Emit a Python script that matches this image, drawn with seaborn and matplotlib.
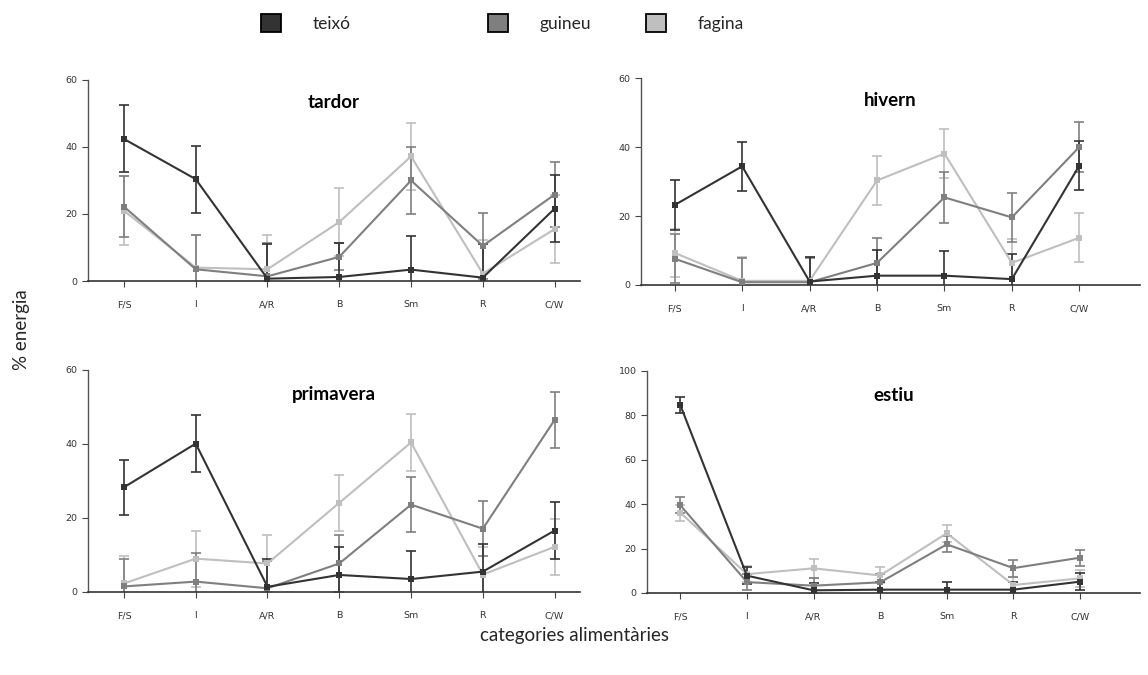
import matplotlib
matplotlib.use("Agg")
import matplotlib.pyplot as plt
from matplotlib.patches import Patch
import seaborn as sns
import numpy as np
import pandas as pd

sns.set_style("ticks")
plt.rcParams["font.family"] = ["Lato", "DejaVu Sans"]

# --------------------------------------------------
# data
# --------------------------------------------------

categories = ["F/S", "I", "A/R", "B", "Sm", "R", "C/W"]
species = ["teixó", "guineu", "fagina"]
colors = ["#333333", "#7f7f7f", "#bfbfbf"]

tardor_teixo = [42.4, 30.4, 0.7, 1.2, 3.4, 1.0, 21.6]
tardor_teixo_err = [10.0, 10.0, 10.3, 10.0, 9.9, 10.0, 10.0]
tardor_guineu = [22.2, 3.5, 1.4, 7.2, 30.0, 10.5, 25.8]
tardor_guineu_err = [9.0, 10.2, 10.0, 4.0, 10.0, 9.9, 9.7]
tardor_fagina = [21.0, 4.0, 3.5, 17.6, 37.2, 2.2, 15.5]
tardor_fagina_err = [10.2, 9.8, 10.2, 10.1, 10.0, 10.0, 10.2]

hivern_teixo = [23.2, 34.4, 1.0, 2.7, 2.7, 1.7, 34.6]
hivern_teixo_err = [7.2, 7.1, 7.1, 7.3, 7.1, 7.2, 7.2]
hivern_guineu = [7.6, 0.8, 0.8, 6.4, 25.4, 19.6, 40.0]
hivern_guineu_err = [7.1, 6.9, 7.0, 7.1, 7.3, 7.2, 7.2]
hivern_fagina = [9.3, 1.2, 1.2, 30.3, 38.1, 6.4, 13.7]
hivern_fagina_err = [7.0, 6.9, 7.0, 7.2, 7.2, 7.0, 7.1]

primavera_teixo = [28.3, 40.1, 1.4, 4.6, 3.5, 5.5, 16.6]
primavera_teixo_err = [7.4, 7.6, 7.5, 7.6, 7.6, 7.6, 7.6]
primavera_guineu = [1.5, 2.8, 1.0, 7.7, 23.6, 17.1, 46.5]
primavera_guineu_err = [7.5, 7.6, 7.5, 7.6, 7.5, 7.5, 7.6]
primavera_fagina = [2.3, 9.0, 7.7, 24.1, 40.4, 4.7, 12.2]
primavera_fagina_err = [7.4, 7.6, 7.6, 7.5, 7.6, 7.5, 7.6]

estiu_teixo = [84.6, 7.8, 1.2, 1.5, 1.5, 1.5, 5.1]
estiu_teixo_err = [3.7, 3.9, 3.4, 3.5, 3.5, 3.5, 3.9]
estiu_guineu = [39.5, 4.9, 3.3, 4.8, 21.9, 11.2, 15.9]
estiu_guineu_err = [3.6, 3.6, 3.6, 3.6, 3.6, 3.8, 3.6]
estiu_fagina = [36.2, 8.5, 11.1, 7.9, 26.9, 3.6, 6.6]
estiu_fagina_err = [3.6, 3.6, 4.2, 3.6, 3.8, 3.6, 3.9]

seasons = ["tardor", "hivern", "primavera", "estiu"]
means = {
    "tardor": [tardor_teixo, tardor_guineu, tardor_fagina],
    "hivern": [hivern_teixo, hivern_guineu, hivern_fagina],
    "primavera": [primavera_teixo, primavera_guineu, primavera_fagina],
    "estiu": [estiu_teixo, estiu_guineu, estiu_fagina],
}
errors = {
    "tardor": [tardor_teixo_err, tardor_guineu_err, tardor_fagina_err],
    "hivern": [hivern_teixo_err, hivern_guineu_err, hivern_fagina_err],
    "primavera": [primavera_teixo_err, primavera_guineu_err, primavera_fagina_err],
    "estiu": [estiu_teixo_err, estiu_guineu_err, estiu_fagina_err],
}
ymax = {"tardor": 60, "hivern": 60, "primavera": 60, "estiu": 100}

# axes rectangles [left, bottom, width, height] in figure fractions
rects = {
    "tardor": [0.0767, 0.5837, 0.4283, 0.2978],
    "hivern": [0.5584, 0.5778, 0.4346, 0.3066],
    "primavera": [0.0767, 0.1230, 0.4283, 0.3289],
    "estiu": [0.5636, 0.1215, 0.4294, 0.3289],
}
xmax = {"tardor": 6.35, "hivern": 6.9, "primavera": 6.35, "estiu": 6.9}

fig = plt.figure(figsize=(11.48, 6.75), dpi=100)

for season in seasons:
    rows = []
    for sp, vals, errs in zip(species, means[season], errors[season]):
        for c, v, e in zip(categories, vals, errs):
            rows.append({"cat": c, "val": v, "err": e, "sp": sp})
    df = pd.DataFrame(rows)

    ax = fig.add_axes(rects[season])
    # error bars first, then lines/markers on top
    for sp, col in zip(species[::-1], colors[::-1]):
        sub = df[df["sp"] == sp]
        ax.errorbar(np.arange(len(categories)), sub["val"], yerr=sub["err"],
                    fmt="none", ecolor=col, elinewidth=1.2, capsize=3.5,
                    capthick=1.2, zorder=2)
    sns.lineplot(data=df, x="cat", y="val", hue="sp", hue_order=species[::-1],
                 palette=colors[::-1], marker="s", markersize=5,
                 markeredgewidth=0, linewidth=1.5, legend=False, ax=ax,
                 sort=False, zorder=3)

    ax.set_xlim(-0.5, xmax[season])
    ax.set_ylim(0, ymax[season])
    ax.set_yticks(np.arange(0, ymax[season] + 1, 20))
    ax.set_xlabel("")
    ax.set_ylabel("")
    for lab in ax.get_xticklabels() + ax.get_yticklabels():
        lab.set_family("DejaVu Sans")
        lab.set_fontsize(6.8)
        lab.set_color("#333333")
    ax.tick_params(axis="both", length=4, width=0.8, color="#444444")
    ax.tick_params(axis="x", pad=10)
    sns.despine(ax=ax)
    ax.spines["left"].set_color("#555555")
    ax.spines["bottom"].set_color("#333333")
    ax.spines["left"].set_linewidth(1.0)
    ax.spines["bottom"].set_linewidth(1.2)
    ax.text(0.5, 0.89, season, transform=ax.transAxes, ha="center",
            va="center", fontsize=13.5, fontweight="bold", color="black")

# legend across the top
legend_x = [261, 488, 646]
for sp, col, lx in zip(species, colors, legend_x):
    h = Patch(facecolor=col, edgecolor="black", linewidth=1.3)
    fig.legend(handles=[h], labels=[sp], loc="center left",
               bbox_to_anchor=(lx / 1148, 1 - 23 / 675), frameon=False,
               fontsize=12.5, handlelength=1.15, handleheight=1.3,
               handletextpad=1.8, borderpad=0, borderaxespad=0)

fig.text(22 / 1148, 1 - 330 / 675, "% energia", rotation=90, ha="center",
         va="center", fontsize=13.5)
fig.text(574 / 1148, 1 - 636 / 675, "categories alimentàries", ha="center",
         va="center", fontsize=13.5)

fig.savefig("out.png", dpi=100)
